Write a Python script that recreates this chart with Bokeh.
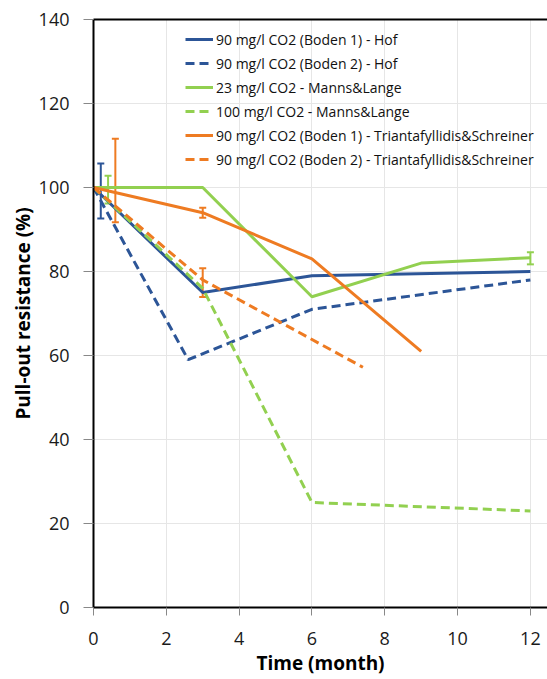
from bokeh.plotting import figure
from bokeh.models import (ColumnDataSource, Whisker, TeeHead, FixedTicker, Legend,
                          LegendItem, Range1d, LinearAxis)
from bokeh.embed import file_html
from bokeh.resources import INLINE

# ---- data ----
hof1_x = [0, 3, 6, 12]
hof1_y = [100, 75, 79, 80]
hof2_x = [0, 2.6, 6, 12]
hof2_y = [100, 59, 71, 78]
ml23_x = [0, 3, 6, 9, 12]
ml23_y = [100, 100, 74, 82, 83.3]
ml100_x = [0, 3, 6, 12]
ml100_y = [100, 76, 25, 23]
ts1_x = [0, 3, 6, 9]
ts1_y = [100, 94, 83, 61]
ts2_x = [0, 3, 7.4]
ts2_y = [100, 78, 57.2]

labels = [
    "90 mg/l CO2 (Boden 1) - Hof",
    "90 mg/l CO2 (Boden 2) - Hof",
    "23 mg/l CO2 - Manns&Lange",
    "100 mg/l CO2 - Manns&Lange",
    "90 mg/l CO2 (Boden 1) - Triantafyllidis&Schreiner",
    "90 mg/l CO2 (Boden 2) - Triantafyllidis&Schreiner",
]

# error bars
err_x = [0.2, 0.4, 0.6, 3, 3, 12]
err_lo = [92.6, 96.2, 91.7, 92.8, 73.9, 81.7]
err_hi = [105.7, 102.8, 111.6, 95.2, 80.8, 84.6]
err_series = ["hof1", "ml23", "ts1", "ts1", "ts2", "ml23"]

x_ticks = [0, 2, 4, 6, 8, 10, 12]
y_ticks = [0, 20, 40, 60, 80, 100, 120, 140]

BLUE = "#2C5597"
GREEN = "#92D050"
ORANGE = "#EE7B22"
colmap = {"hof1": BLUE, "hof2": BLUE, "ml23": GREEN, "ml100": GREEN, "ts1": ORANGE, "ts2": ORANGE}

FONT = "Open Sans"

p = figure(width=547, height=679, output_backend="svg", toolbar_location=None,
           x_range=Range1d(0, 12.47), y_range=Range1d(0, 140),
           min_border_left=93, min_border_top=19, min_border_bottom=72, min_border_right=0)
p.outline_line_color = None
p.background_fill_color = "white"

# grid
for g in (p.xgrid, p.ygrid):
    g.grid_line_color = "#E6E6E6"
    g.grid_line_width = 1
p.xgrid.ticker = FixedTicker(ticks=x_ticks)
p.ygrid.ticker = FixedTicker(ticks=y_ticks)

# axes
p.xaxis.ticker = FixedTicker(ticks=x_ticks)
p.yaxis.ticker = FixedTicker(ticks=y_ticks)
for ax in (p.xaxis[0], p.yaxis[0]):
    ax.axis_line_color = "black"
    ax.axis_line_width = 2
    ax.major_tick_line_color = "#888888"
    ax.major_tick_in = 0
    ax.minor_tick_line_color = None
    ax.major_label_text_font = FONT
    ax.major_label_text_font_size = "18px"
    ax.major_label_text_color = "#1a1a1a"
    ax.axis_label_text_font = FONT
    ax.axis_label_text_font_size = "19px"
    ax.axis_label_text_font_style = "bold"
    ax.axis_label_text_color = "black"
p.xaxis.major_tick_out = 8
p.yaxis.major_tick_out = 10
p.xaxis.major_label_standoff = 16
p.yaxis.major_label_standoff = 14
p.xaxis.axis_label = "Time (month)"
p.yaxis.axis_label = "Pull-out resistance (%)"
p.xaxis.axis_label_standoff = 2
p.yaxis.axis_label_standoff = 0

top_ax = LinearAxis(ticker=FixedTicker(ticks=[]), major_label_text_font_size="0px",
                    axis_line_color="black", axis_line_width=2,
                    major_tick_line_color=None, minor_tick_line_color=None)
p.add_layout(top_ax, "above")

# lines
LW = 3
DASH = "9 5"
r1 = p.line(hof1_x, hof1_y, line_color=BLUE, line_width=LW)
r2 = p.line(hof2_x, hof2_y, line_color=BLUE, line_width=LW, line_dash=DASH)
r3 = p.line(ml23_x, ml23_y, line_color=GREEN, line_width=LW)
r4 = p.line(ml100_x, ml100_y, line_color=GREEN, line_width=LW, line_dash=DASH)
r5 = p.line(ts1_x, ts1_y, line_color=ORANGE, line_width=LW)
r6 = p.line(ts2_x, ts2_y, line_color=ORANGE, line_width=LW, line_dash=DASH)

# error bars
for s in ["hof1", "ml23", "ts1", "ts2"]:
    idx = [i for i, k in enumerate(err_series) if k == s]
    src = ColumnDataSource(dict(x=[err_x[i] for i in idx],
                                lo=[err_lo[i] for i in idx],
                                hi=[err_hi[i] for i in idx]))
    c = colmap[s]
    w = Whisker(source=src, base="x", lower="lo", upper="hi",
                line_color=c, line_width=2,
                lower_head=TeeHead(size=7, line_color=c, line_width=2),
                upper_head=TeeHead(size=7, line_color=c, line_width=2))
    p.add_layout(w)

legend = Legend(items=[LegendItem(label=l, renderers=[r]) for l, r in
                       zip(labels, [r1, r2, r3, r4, r5, r6])],
                location=(92, 438))
legend.label_text_font = FONT
legend.label_text_font_size = "14px"
legend.label_text_color = "#111111"
legend.glyph_width = 28
legend.glyph_height = 20
legend.label_height = 20
legend.spacing = 4
legend.padding = 5
legend.margin = 0
legend.label_standoff = 3
legend.border_line_color = None
legend.background_fill_alpha = 0
p.add_layout(legend)

open("out.html", "w").write(file_html(p, INLINE))
